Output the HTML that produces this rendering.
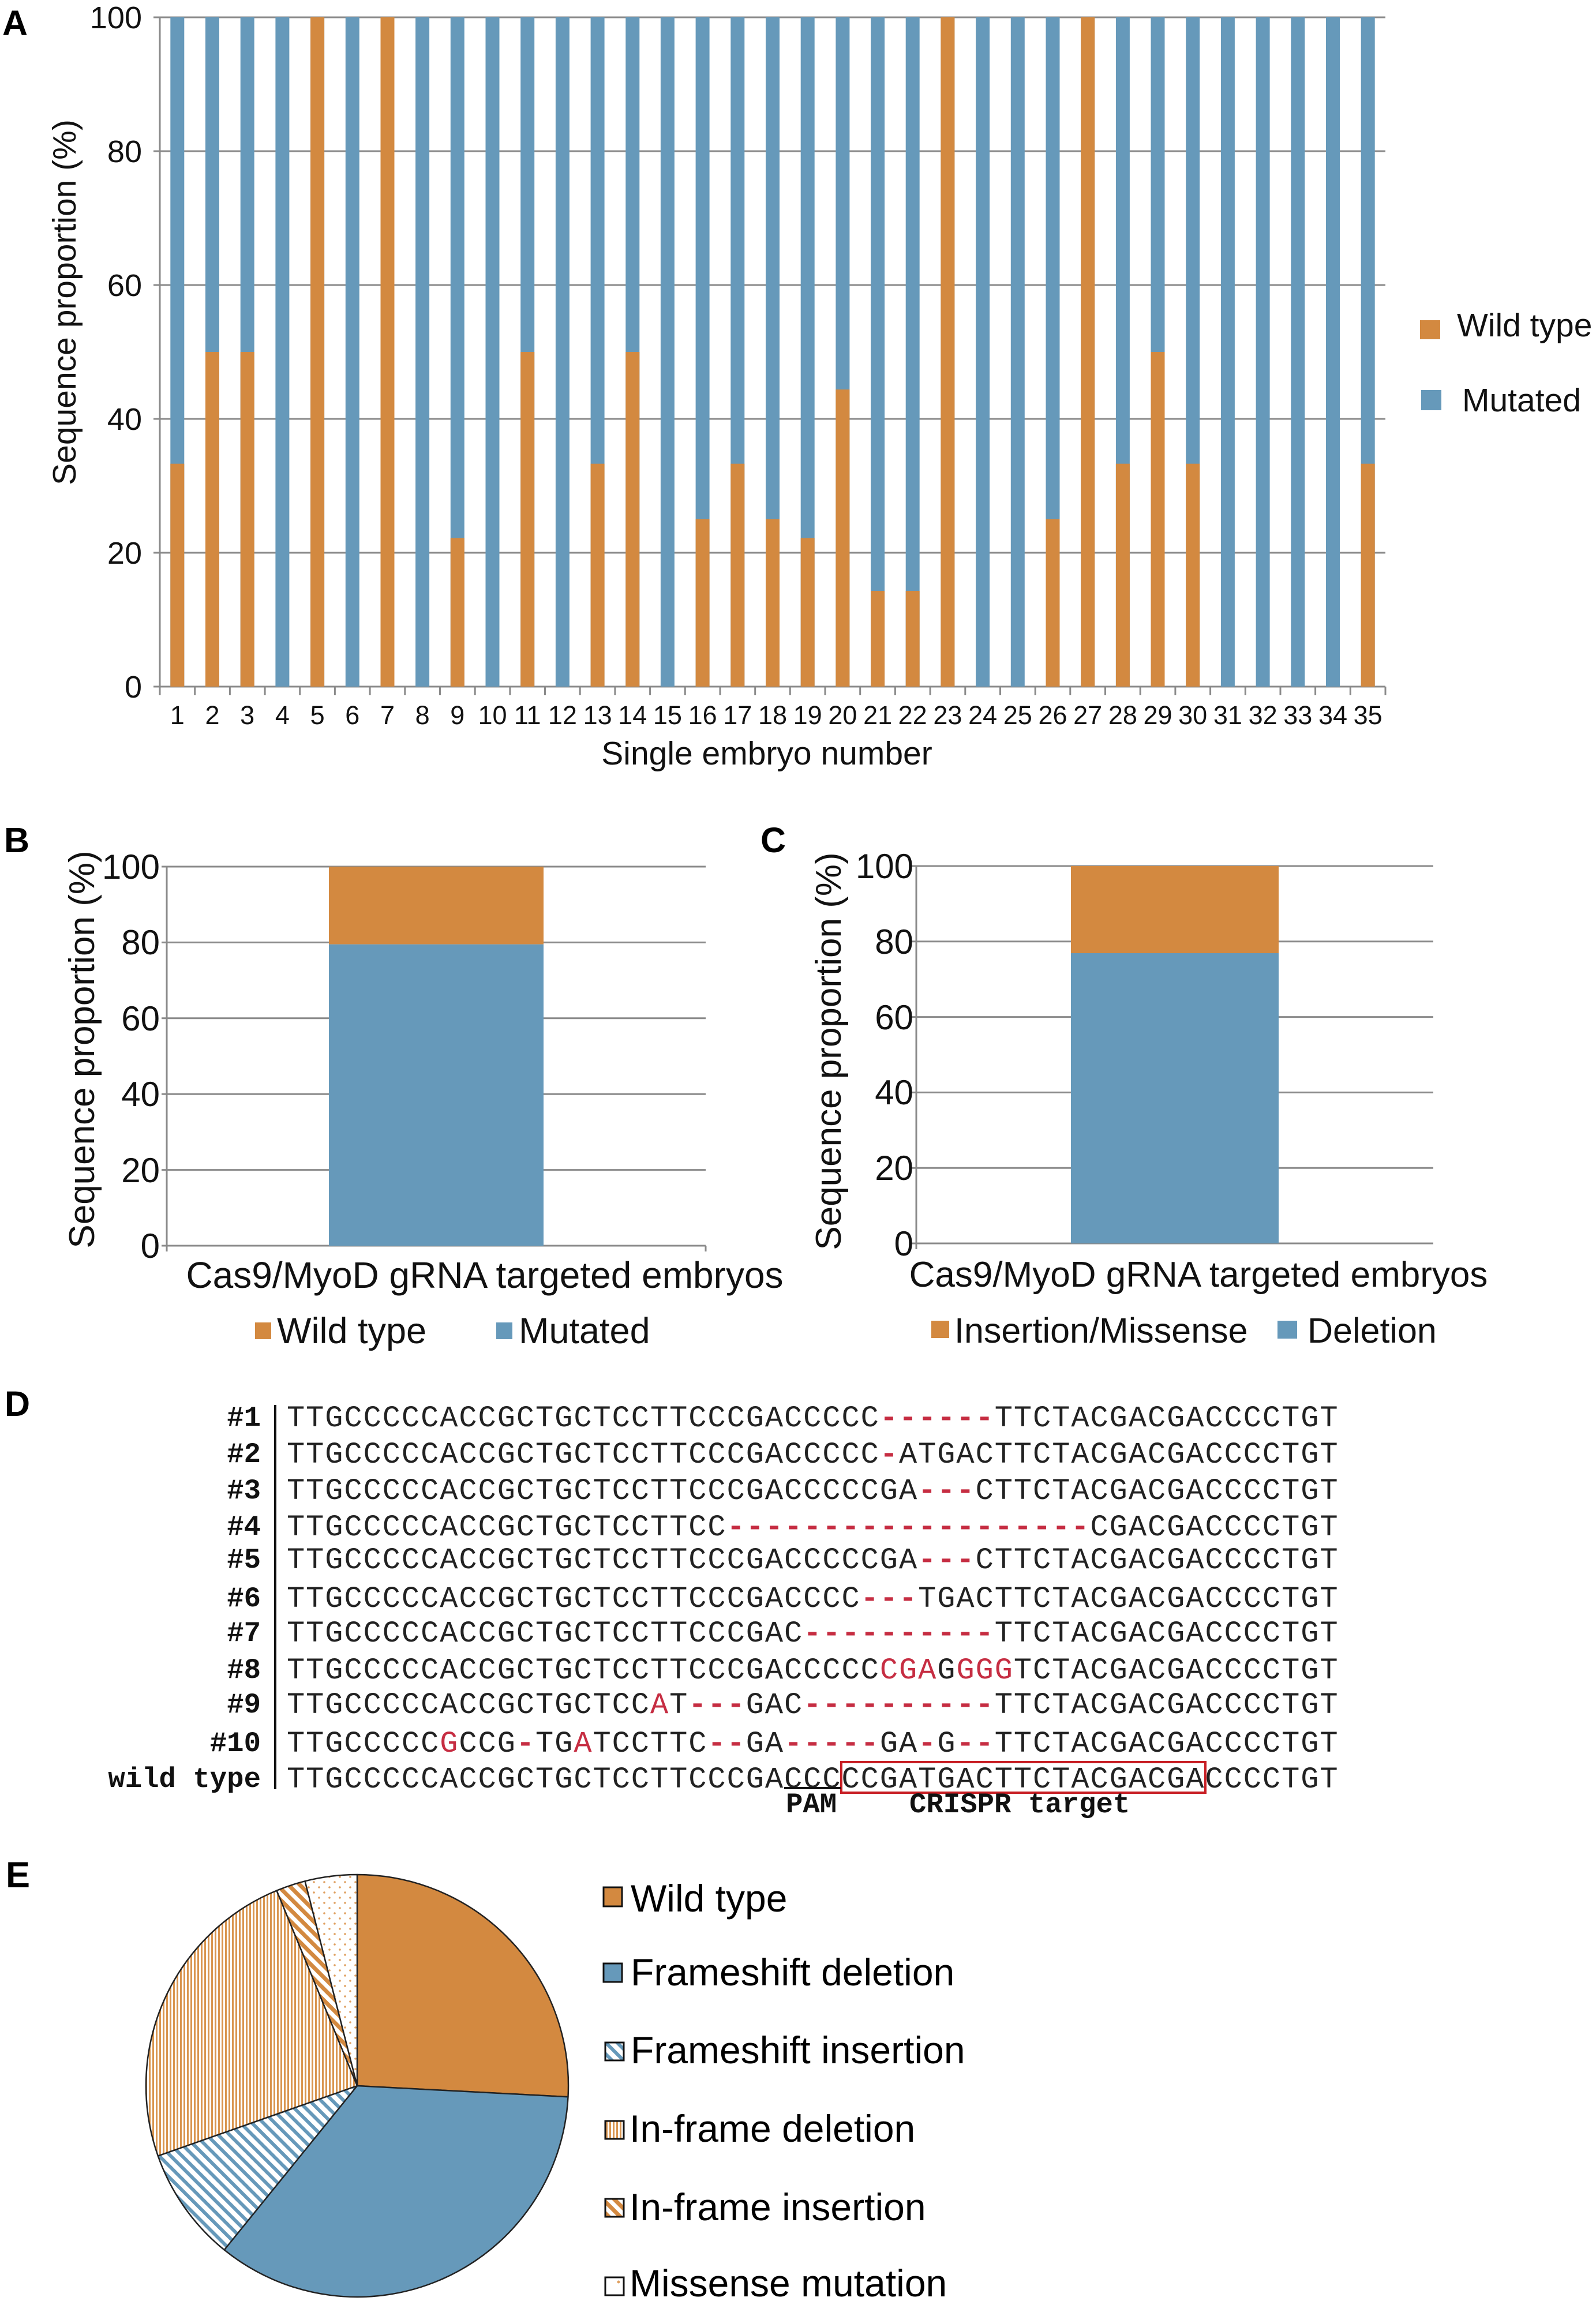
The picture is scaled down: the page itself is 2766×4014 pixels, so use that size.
<!DOCTYPE html>
<html>
<head>
<meta charset="utf-8">
<style>
html,body{margin:0;padding:0;background:#fff;}
svg{display:block;}
.s{font-family:"Liberation Sans",Arial,sans-serif;fill:#111;}
.b{font-family:"Liberation Sans",Arial,sans-serif;font-weight:bold;fill:#000;}
.m{font-family:"Liberation Mono","DejaVu Sans Mono",monospace;font-size:52px;letter-spacing:1.95px;fill:#222;white-space:pre;}
.ml{font-family:"Liberation Mono","DejaVu Sans Mono",monospace;font-weight:bold;font-size:49px;fill:#111;white-space:pre;}
.r{fill:#c62d42;}
.rd{fill:#c62d42;font-weight:bold;}
</style>
</head>
<body>
<svg width="2766" height="4014" viewBox="0 0 2766 4014" xmlns="http://www.w3.org/2000/svg">
<defs>
<pattern id="pFI" width="14" height="14" patternUnits="userSpaceOnUse" patternTransform="rotate(-45)"><rect width="14" height="14" fill="#fff"/><rect width="6" height="14" fill="#6699BA"/></pattern>
<pattern id="pIFI" width="14" height="14" patternUnits="userSpaceOnUse" patternTransform="rotate(-45)"><rect width="14" height="14" fill="#fff"/><rect width="7" height="14" fill="#D38940"/></pattern>
<pattern id="pIFD" width="6" height="10" patternUnits="userSpaceOnUse"><rect width="6" height="10" fill="#fff"/><rect width="3" height="10" fill="#D9954F"/></pattern>
<pattern id="pMM" width="18" height="18" patternUnits="userSpaceOnUse"><rect width="18" height="18" fill="#fff"/><circle cx="4" cy="4" r="1.8" fill="#E0A060"/><circle cx="13" cy="13" r="1.8" fill="#E0A060"/></pattern>
</defs>
<rect width="2766" height="4014" fill="#fff"/>

<!-- ================= PANEL A ================= -->
<text class="b" x="4" y="61" font-size="61">A</text>
<g stroke="#8a8a8a" stroke-width="3" fill="none">
<path d="M266 30H2401M266 262H2401M266 494H2401M266 726H2401M266 958H2401M266 1190H2401"/>
<path d="M277 30V1205"/>
<path d="M337.7 1190v15M398.4 1190v15M459.1 1190v15M519.7 1190v15M580.4 1190v15M641.1 1190v15M701.8 1190v15M762.5 1190v15M823.2 1190v15M883.9 1190v15M944.5 1190v15M1005.2 1190v15M1065.9 1190v15M1126.6 1190v15M1187.3 1190v15M1248 1190v15M1308.7 1190v15M1369.3 1190v15M1430 1190v15M1490.7 1190v15M1551.4 1190v15M1612.1 1190v15M1672.8 1190v15M1733.5 1190v15M1794.2 1190v15M1854.8 1190v15M1915.5 1190v15M1976.2 1190v15M2036.9 1190v15M2097.6 1190v15M2158.3 1190v15M2219 1190v15M2279.6 1190v15M2340.3 1190v15M2401 1190v15"/>
</g>
<g fill="#6699BA">
<rect x="295.3" y="30" width="24" height="1160"/><rect x="356" y="30" width="24" height="1160"/><rect x="416.7" y="30" width="24" height="1160"/><rect x="477.4" y="30" width="24" height="1160"/><rect x="538.1" y="30" width="24" height="1160"/><rect x="598.8" y="30" width="24" height="1160"/><rect x="659.5" y="30" width="24" height="1160"/><rect x="720.1" y="30" width="24" height="1160"/><rect x="780.8" y="30" width="24" height="1160"/><rect x="841.5" y="30" width="24" height="1160"/><rect x="902.2" y="30" width="24" height="1160"/><rect x="962.9" y="30" width="24" height="1160"/><rect x="1023.6" y="30" width="24" height="1160"/><rect x="1084.3" y="30" width="24" height="1160"/><rect x="1144.9" y="30" width="24" height="1160"/><rect x="1205.6" y="30" width="24" height="1160"/><rect x="1266.3" y="30" width="24" height="1160"/><rect x="1327" y="30" width="24" height="1160"/><rect x="1387.7" y="30" width="24" height="1160"/><rect x="1448.4" y="30" width="24" height="1160"/><rect x="1509.1" y="30" width="24" height="1160"/><rect x="1569.7" y="30" width="24" height="1160"/><rect x="1630.4" y="30" width="24" height="1160"/><rect x="1691.1" y="30" width="24" height="1160"/><rect x="1751.8" y="30" width="24" height="1160"/><rect x="1812.5" y="30" width="24" height="1160"/><rect x="1873.2" y="30" width="24" height="1160"/><rect x="1933.9" y="30" width="24" height="1160"/><rect x="1994.5" y="30" width="24" height="1160"/><rect x="2055.2" y="30" width="24" height="1160"/><rect x="2115.9" y="30" width="24" height="1160"/><rect x="2176.6" y="30" width="24" height="1160"/><rect x="2237.3" y="30" width="24" height="1160"/><rect x="2298" y="30" width="24" height="1160"/><rect x="2358.7" y="30" width="24" height="1160"/>
</g>
<g fill="#D38940">
<rect x="295.3" y="803.7" width="24" height="386.3"/>
<rect x="356" y="610" width="24" height="580"/>
<rect x="416.7" y="610" width="24" height="580"/>
<rect x="538.1" y="30" width="24" height="1160"/>
<rect x="659.5" y="30" width="24" height="1160"/>
<rect x="780.8" y="932.5" width="24" height="257.5"/>
<rect x="902.2" y="610" width="24" height="580"/>
<rect x="1023.6" y="803.7" width="24" height="386.3"/>
<rect x="1084.3" y="610" width="24" height="580"/>
<rect x="1205.6" y="900" width="24" height="290"/>
<rect x="1266.3" y="803.7" width="24" height="386.3"/>
<rect x="1327" y="900" width="24" height="290"/>
<rect x="1387.7" y="932.5" width="24" height="257.5"/>
<rect x="1448.4" y="675" width="24" height="515"/>
<rect x="1509.1" y="1024" width="24" height="166"/>
<rect x="1569.7" y="1024" width="24" height="166"/>
<rect x="1630.4" y="30" width="24" height="1160"/>
<rect x="1812.5" y="900" width="24" height="290"/>
<rect x="1873.2" y="30" width="24" height="1160"/>
<rect x="1933.9" y="803.7" width="24" height="386.3"/>
<rect x="1994.5" y="610" width="24" height="580"/>
<rect x="2055.2" y="803.7" width="24" height="386.3"/>
<rect x="2358.7" y="803.7" width="24" height="386.3"/>
</g>
<g class="s" font-size="54" text-anchor="end">
<text x="246" y="49">100</text><text x="246" y="281">80</text><text x="246" y="513">60</text><text x="246" y="745">40</text><text x="246" y="977">20</text><text x="246" y="1209">0</text>
</g>
<g class="s" font-size="45" text-anchor="middle">
<text x="307.3" y="1255">1</text><text x="368" y="1255">2</text><text x="428.7" y="1255">3</text><text x="489.4" y="1255">4</text><text x="550.1" y="1255">5</text><text x="610.8" y="1255">6</text><text x="671.5" y="1255">7</text><text x="732.1" y="1255">8</text><text x="792.8" y="1255">9</text><text x="853.5" y="1255">10</text><text x="914.2" y="1255">11</text><text x="974.9" y="1255">12</text><text x="1035.6" y="1255">13</text><text x="1096.3" y="1255">14</text><text x="1156.9" y="1255">15</text><text x="1217.6" y="1255">16</text><text x="1278.3" y="1255">17</text><text x="1339" y="1255">18</text><text x="1399.7" y="1255">19</text><text x="1460.4" y="1255">20</text><text x="1521.1" y="1255">21</text><text x="1581.7" y="1255">22</text><text x="1642.4" y="1255">23</text><text x="1703.1" y="1255">24</text><text x="1763.8" y="1255">25</text><text x="1824.5" y="1255">26</text><text x="1885.2" y="1255">27</text><text x="1945.9" y="1255">28</text><text x="2006.5" y="1255">29</text><text x="2067.2" y="1255">30</text><text x="2127.9" y="1255">31</text><text x="2188.6" y="1255">32</text><text x="2249.3" y="1255">33</text><text x="2310" y="1255">34</text><text x="2370.7" y="1255">35</text>
</g>
<text class="s" font-size="57" text-anchor="middle" transform="translate(131,524) rotate(-90)">Sequence proportion (%)</text>
<text class="s" font-size="57" text-anchor="middle" x="1329" y="1325">Single embryo number</text>
<rect x="2461" y="555" width="35" height="33" fill="#D38940"/>
<text class="s" font-size="57" x="2525" y="583">Wild type</text>
<rect x="2463" y="676" width="35" height="35" fill="#6699BA"/>
<text class="s" font-size="57" x="2534" y="713">Mutated</text>

<!-- ================= PANEL B ================= -->
<text class="b" x="7" y="1477" font-size="61">B</text>
<g stroke="#8a8a8a" stroke-width="3" fill="none">
<path d="M280 1502H1223M280 1633.4H1223M280 1764.8H1223M280 1896.2H1223M280 2027.6H1223M280 2159H1223"/>
<path d="M289 1502V2169M1223 2159V2169"/>
</g>
<rect x="570" y="1502" width="372" height="134.7" fill="#D38940"/>
<rect x="570" y="1636.7" width="372" height="522.3" fill="#6699BA"/>
<g class="s" font-size="60" text-anchor="end">
<text x="277" y="1523">100</text><text x="277" y="1654">80</text><text x="277" y="1786">60</text><text x="277" y="1917">40</text><text x="277" y="2049">20</text><text x="277" y="2180">0</text>
</g>
<text class="s" font-size="62" text-anchor="middle" transform="translate(163,1819) rotate(-90)">Sequence proportion (%)</text>
<text class="s" font-size="64" text-anchor="middle" x="840" y="2232">Cas9/MyoD gRNA targeted embryos</text>
<rect x="442" y="2292" width="28" height="29" fill="#D38940"/>
<text class="s" font-size="63" x="480" y="2328">Wild type</text>
<rect x="860" y="2292" width="28" height="29" fill="#6699BA"/>
<text class="s" font-size="63" x="899" y="2328">Mutated</text>

<!-- ================= PANEL C ================= -->
<text class="b" x="1318" y="1477" font-size="61">C</text>
<g stroke="#8a8a8a" stroke-width="3" fill="none">
<path d="M1576 1501H2484M1576 1631.8H2484M1576 1762.6H2484M1576 1893.4H2484M1576 2024.2H2484M1576 2155H2484"/>
<path d="M1588 1501V2165"/>
</g>
<rect x="1856" y="1501" width="360" height="151" fill="#D38940"/>
<rect x="1856" y="1652" width="360" height="503" fill="#6699BA"/>
<g class="s" font-size="60" text-anchor="end">
<text x="1583" y="1522">100</text><text x="1583" y="1653">80</text><text x="1583" y="1784">60</text><text x="1583" y="1914">40</text><text x="1583" y="2045">20</text><text x="1583" y="2176">0</text>
</g>
<text class="s" font-size="62" text-anchor="middle" transform="translate(1457,1822) rotate(-90)">Sequence proportion (%)</text>
<text class="s" font-size="62" text-anchor="middle" x="2077" y="2230">Cas9/MyoD gRNA targeted embryos</text>
<rect x="1614" y="2289" width="31" height="30" fill="#D38940"/>
<text class="s" font-size="61" x="1654" y="2327">Insertion/Missense</text>
<rect x="2214" y="2289" width="34" height="31" fill="#6699BA"/>
<text class="s" font-size="61" x="2266" y="2327">Deletion</text>

<!-- ================= PANEL D ================= -->
<text class="b" x="8" y="2454" font-size="61">D</text>
<rect x="475" y="2435" width="4" height="666" fill="#111"/>
<g class="ml" text-anchor="end">
<text x="452" y="2471">#1</text>
<text x="452" y="2534">#2</text>
<text x="452" y="2597">#3</text>
<text x="452" y="2660">#4</text>
<text x="452" y="2717">#5</text>
<text x="452" y="2784">#6</text>
<text x="452" y="2844">#7</text>
<text x="452" y="2908">#8</text>
<text x="452" y="2968">#9</text>
<text x="452" y="3035">#10</text>
<text x="452" y="3097">wild type</text>
</g>
<text class="m" x="497" y="2472">TTGCCCCCACCGCTGCTCCTTCCCGACCCCC<tspan class="rd">------</tspan>TTCTACGACGACCCCTGT</text>
<text class="m" x="497" y="2535">TTGCCCCCACCGCTGCTCCTTCCCGACCCCC<tspan class="rd">-</tspan>ATGACTTCTACGACGACCCCTGT</text>
<text class="m" x="497" y="2598">TTGCCCCCACCGCTGCTCCTTCCCGACCCCCGA<tspan class="rd">---</tspan>CTTCTACGACGACCCCTGT</text>
<text class="m" x="497" y="2661">TTGCCCCCACCGCTGCTCCTTCC<tspan class="rd">-------------------</tspan>CGACGACCCCTGT</text>
<text class="m" x="497" y="2718">TTGCCCCCACCGCTGCTCCTTCCCGACCCCCGA<tspan class="rd">---</tspan>CTTCTACGACGACCCCTGT</text>
<text class="m" x="497" y="2785">TTGCCCCCACCGCTGCTCCTTCCCGACCCC<tspan class="rd">---</tspan>TGACTTCTACGACGACCCCTGT</text>
<text class="m" x="497" y="2845">TTGCCCCCACCGCTGCTCCTTCCCGAC<tspan class="rd">----------</tspan>TTCTACGACGACCCCTGT</text>
<text class="m" x="497" y="2909">TTGCCCCCACCGCTGCTCCTTCCCGACCCCC<tspan class="r">CGA</tspan>G<tspan class="r">GGG</tspan>TCTACGACGACCCCTGT</text>
<text class="m" x="497" y="2969">TTGCCCCCACCGCTGCTCC<tspan class="r">A</tspan>T<tspan class="rd">---</tspan>GAC<tspan class="rd">----------</tspan>TTCTACGACGACCCCTGT</text>
<text class="m" x="497" y="3036">TTGCCCCC<tspan class="r">G</tspan>CCG<tspan class="rd">-</tspan>TG<tspan class="r">A</tspan>TCCTTC<tspan class="rd">--</tspan>GA<tspan class="rd">-----</tspan>GA<tspan class="rd">-</tspan>G<tspan class="rd">--</tspan>TTCTACGACGACCCCTGT</text>
<text class="m" x="497" y="3098">TTGCCCCCACCGCTGCTCCTTCCCGACCCCCGATGACTTCTACGACGACCCCTGT</text>
<rect x="1458" y="3054" width="631" height="53" fill="none" stroke="#c81e24" stroke-width="4"/>
<rect x="1359" y="3097" width="98" height="4" fill="#111"/>
<text class="ml" x="1362" y="3141" font-size="50">PAM</text>
<text class="ml" x="1576" y="3141" font-size="50">CRISPR target</text>

<!-- ================= PANEL E ================= -->
<text class="b" x="10" y="3271" font-size="63">E</text>
<g stroke="#222" stroke-width="2.5" stroke-linejoin="round">
<path d="M619,3615 L619,3249 A366,366 0 0,1 984.5,3634.2 Z" fill="#D38940"/>
<path d="M619,3615 L984.5,3634.2 A366,366 0 0,1 388.7,3899.4 Z" fill="#6699BA"/>
<path d="M619,3615 L388.7,3899.4 A366,366 0 0,1 273.8,3736.6 Z" fill="url(#pFI)"/>
<path d="M619,3615 L273.8,3736.6 A366,366 0 0,1 479.5,3276.6 Z" fill="url(#pIFD)"/>
<path d="M619,3615 L479.5,3276.6 A366,366 0 0,1 528.6,3260.3 Z" fill="url(#pIFI)"/>
<path d="M619,3615 L528.6,3260.3 A366,366 0 0,1 619,3249 Z" fill="url(#pMM)"/>
</g>
<g stroke="#111" stroke-width="3">
<rect x="1046" y="3271" width="32" height="33" fill="#D38940"/>
<rect x="1046" y="3403" width="32" height="32" fill="#6699BA"/>
<rect x="1049" y="3540" width="32" height="31" fill="url(#pFI)"/>
<rect x="1049" y="3676" width="32" height="31" fill="url(#pIFD)"/>
<rect x="1049" y="3811" width="32" height="31" fill="url(#pIFI)"/>
<rect x="1049" y="3947" width="32" height="31" fill="#fff"/>
</g>
<circle cx="1072" cy="3955" r="2.5" fill="#E0A060"/>
<g class="s" font-size="66" style="fill:#000">
<text x="1093" y="3313">Wild type</text>
<text x="1093" y="3441">Frameshift deletion</text>
<text x="1093" y="3576">Frameshift insertion</text>
<text x="1091" y="3712">In-frame deletion</text>
<text x="1091" y="3848">In-frame insertion</text>
<text x="1091" y="3980">Missense mutation</text>
</g>
</svg>
</body>
</html>
